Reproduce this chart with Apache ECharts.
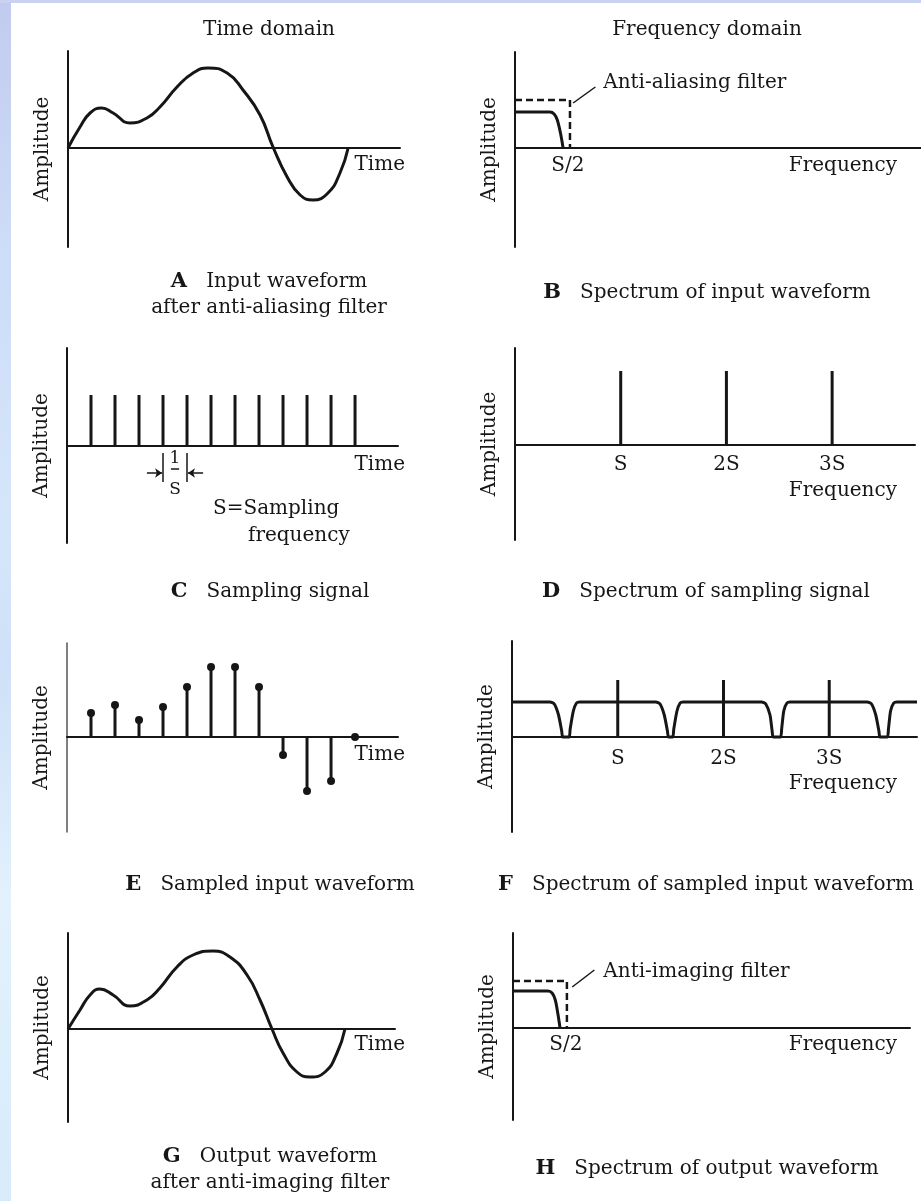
<!DOCTYPE html>
<html>
<head>
<meta charset="utf-8">
<script src="https://cdn.jsdelivr.net/npm/echarts@6/dist/echarts.min.js"></script>
<style>
html, body { margin: 0; padding: 0; background: #fff; }
#chart { width: 921px; height: 1201px; }
</style>
</head>
<body>
<div id="chart"></div>
<script>
// values
// time in sample periods, frequency in multiples of S, amplitude in arbitrary units
var waveA_t   = [0, 0.5, 0.92, 1.4, 1.88, 2.58, 3.29, 3.83, 4.54, 5.21, 5.83, 6.63, 7.29, 8.0, 8.54, 9.13, 9.67, 10.2, 10.83, 11.33, 11.67];
var waveA_amp = [0, 21, 35, 40, 35, 25, 30, 41, 61, 75, 80, 75, 58, 33, 1, -29, -47, -52, -45, -25, 0];

var specB_f   = [0, 0.33, 0.37, 0.40, 0.43, 0.455];
var specB_amp = [36, 36, 34, 28, 15, 0];
var filterB_f   = [0, 0.52, 0.52];
var filterB_amp = [48, 48, 0];

var pulseC_t   = [1, 2, 3, 4, 5, 6, 7, 8, 9, 10, 11, 12];
var pulseC_amp = [51, 51, 51, 51, 51, 51, 51, 51, 51, 51, 51, 51];

var lineD_f   = [1, 2, 3];
var lineD_amp = [74, 74, 74];

var sampleE_t   = [1, 2, 3, 4, 5, 6, 7, 8, 9, 10, 11, 12];
var sampleE_amp = [24, 32, 17, 30, 50, 70, 70, 50, -18, -54, -44, 0];

var specF_f = [0, 0.36, 0.40, 0.44, 0.47, 0.48, 0.54, 0.55, 0.58, 0.61, 0.64,
               1.36, 1.40, 1.44, 1.47, 1.48, 1.52, 1.53, 1.56, 1.59, 1.62,
               2.36, 2.40, 2.44, 2.46, 2.47, 2.54, 2.55, 2.57, 2.60, 2.63,
               3.36, 3.40, 3.44, 3.47, 3.48, 3.55, 3.56, 3.58, 3.61, 3.64, 3.83];
var specF_amp = [35, 35, 33, 22, 6, 0, 0, 8, 26, 34, 35,
                 35, 33, 22, 6, 0, 0, 8, 26, 34, 35,
                 35, 33, 22, 6, 0, 0, 8, 26, 34, 35,
                 35, 33, 22, 6, 0, 0, 8, 26, 34, 35, 35];
var lineF_f   = [1, 2, 3];
var lineF_amp = [57, 57, 57];

var waveG_t   = [0, 0.5, 0.92, 1.33, 1.88, 2.58, 3.29, 3.83, 4.54, 5.21, 6.04, 6.75, 7.46, 8.0, 8.5, 8.96, 9.54, 10.08, 10.71, 11.21, 11.54];
var waveG_amp = [0, 19, 34, 40, 34, 23, 29, 41, 62, 74, 78, 72, 54, 29, 0, -24, -43, -48, -43, -24, 0];

var specH_f   = [0, 0.33, 0.37, 0.40, 0.425, 0.445];
var specH_amp = [37, 37, 35, 28, 14, 0];
var filterH_f   = [0, 0.51, 0.51];
var filterH_amp = [47, 47, 0];

// frequency tick labels
var halfTick_f    = [0.5];
var halfTick_text = ['S/2'];
var freqTick_f    = [1, 2, 3];
var freqTick_text = ['S', '2S', '3S'];

var INK = '#161616';
var FONT = '"DejaVu Serif", "Liberation Serif", serif';

function pairs(xs, ys) {
  return xs.map(function (x, i) { return [x, ys[i]]; });
}

// panel layout: A B / C D / E F / G H
var panels = [
  {left: 68,  top: 51,  width: 332, height: 196, xMax: 13.83, yMin: -99, yMax: 97, xName: 'Time',      nameGap: 5,   namePad: 7},
  {left: 515, top: 52,  width: 406, height: 195, xMax: 3.84,  yMin: -99, yMax: 96, xName: 'Frequency', nameGap: -24, namePad: 8},
  {left: 67,  top: 348, width: 331, height: 195, xMax: 13.79, yMin: -97, yMax: 98, xName: 'Time',      nameGap: 7,   namePad: 9},
  {left: 515, top: 348, width: 400, height: 192, xMax: 3.784, yMin: -95, yMax: 97, xName: 'Frequency', nameGap: -18, namePad: 36},
  {left: 67,  top: 643, width: 331, height: 189, xMax: 13.79, yMin: -95, yMax: 94, xName: 'Time',      nameGap: 7,   namePad: 8,  thinY: true},
  {left: 512, top: 641, width: 405, height: 191, xMax: 3.83,  yMin: -95, yMax: 96, xName: 'Frequency', nameGap: -20, namePad: 37},
  {left: 68,  top: 933, width: 327, height: 189, xMax: 13.625, yMin: -93, yMax: 96, xName: 'Time',     nameGap: 10,  namePad: 6},
  {left: 513, top: 933, width: 397, height: 187, xMax: 3.756, yMin: -92, yMax: 95, xName: 'Frequency', nameGap: -13, namePad: 7}
];

var grids = [], xAxes = [], yAxes = [];
panels.forEach(function (p, i) {
  grids.push({left: p.left, top: p.top, width: p.width, height: p.height, containLabel: false, outerBoundsMode: 'none'});
  xAxes.push({
    gridIndex: i, type: 'value', min: 0, max: p.xMax,
    axisLine: {show: true, onZero: true, lineStyle: {color: INK, width: 2}},
    axisTick: {show: false}, splitLine: {show: false}, axisLabel: {show: false},
    name: p.xName, nameLocation: 'end', nameGap: p.nameGap,
    nameTextStyle: {color: INK, fontFamily: FONT, fontSize: 20, align: 'right', verticalAlign: 'top', padding: [p.namePad, 0, 0, 0]}
  });
  yAxes.push({
    gridIndex: i, type: 'value', min: p.yMin, max: p.yMax,
    axisLine: {show: true, onZero: false, lineStyle: {color: p.thinY ? '#555' : INK, width: p.thinY ? 1.5 : 2}},
    axisTick: {show: false}, splitLine: {show: false}, axisLabel: {show: false},
    name: 'Amplitude', nameLocation: 'middle', nameRotate: 90, nameGap: 15,
    nameTextStyle: {color: INK, fontFamily: FONT, fontSize: 20}
  });
});

function curve(i, data, extra) {
  var s = {type: 'line', xAxisIndex: i, yAxisIndex: i, data: data, symbol: 'none', silent: true,
    lineStyle: {color: INK, width: 3}};
  return Object.assign(s, extra || {});
}
function spikes(i, data, w) {
  return {type: 'bar', xAxisIndex: i, yAxisIndex: i, data: data, barWidth: w || 3, silent: true,
    itemStyle: {color: INK}};
}
function note(i, items, pos, size) {
  return {type: 'scatter', xAxisIndex: i, yAxisIndex: i, symbolSize: 1, silent: true,
    itemStyle: {color: 'rgba(0,0,0,0)', opacity: 1},
    label: {show: true, position: pos, distance: 0, formatter: '{b}', color: INK, opacity: 1,
      fontFamily: FONT, fontSize: size || 20},
    data: items};
}
// tick labels sit just under the zero line, at the given amplitude
function tickNotes(i, fs, texts, amp) {
  return note(i, fs.map(function (f, k) { return {name: texts[k], value: [f, amp]}; }), 'inside');
}

var series = [
  // A
  curve(0, pairs(waveA_t, waveA_amp), {smooth: true}),
  // B
  curve(1, pairs(specB_f, specB_amp), {smooth: 0.3}),
  curve(1, pairs(filterB_f, filterB_amp), {lineStyle: {color: INK, width: 2.5, type: [7, 4]}}),
  curve(1, [[0.55, 45], [0.76, 61]], {lineStyle: {color: INK, width: 1.5}}),
  note(1, [{name: 'Anti-aliasing filter', value: [0.83, 65]}], 'right'),
  tickNotes(1, halfTick_f, halfTick_text, -18),
  // C
  Object.assign(spikes(2, pairs(pulseC_t, pulseC_amp)), {
    markLine: {
      silent: true, symbol: ['none', 'none'], symbolSize: 7, label: {show: false},
      lineStyle: {color: INK, width: 1.5, type: 'solid'}, emphasis: {disabled: true},
      data: [
        [{coord: [4, -7]}, {coord: [4, -36]}],
        [{coord: [5, -7]}, {coord: [5, -36]}],
        [{coord: [3.33, -27]}, {coord: [3.96, -27], symbol: 'arrow'}],
        [{coord: [5.67, -27]}, {coord: [5.04, -27], symbol: 'arrow'}],
        [{coord: [4.33, -23]}, {coord: [4.67, -23]}]
      ]
    }
  }),
  note(2, [{name: '1', value: [4.5, -13]}, {name: 'S', value: [4.5, -44]}], 'inside', 17),
  // D
  spikes(3, pairs(lineD_f, lineD_amp)),
  tickNotes(3, freqTick_f, freqTick_text, -20),
  // E
  spikes(4, pairs(sampleE_t, sampleE_amp), 3),
  {type: 'scatter', xAxisIndex: 4, yAxisIndex: 4, symbolSize: 8, silent: true,
    itemStyle: {color: INK, opacity: 1}, data: pairs(sampleE_t, sampleE_amp)},
  // F
  curve(5, pairs(specF_f, specF_amp), {smooth: 0.2}),
  spikes(5, pairs(lineF_f, lineF_amp)),
  tickNotes(5, freqTick_f, freqTick_text, -22),
  // G
  curve(6, pairs(waveG_t, waveG_amp), {smooth: true}),
  // H
  curve(7, pairs(specH_f, specH_amp), {smooth: 0.3}),
  curve(7, pairs(filterH_f, filterH_amp), {lineStyle: {color: INK, width: 2.5, type: [7, 4]}}),
  curve(7, [[0.56, 41], [0.77, 58]], {lineStyle: {color: INK, width: 1.5}}),
  note(7, [{name: 'Anti-imaging filter', value: [0.85, 56]}], 'right'),
  tickNotes(7, halfTick_f, halfTick_text, -17)
];

function txt(x, y, text, align) {
  return {type: 'text', x: x, y: y, silent: true,
    style: {text: text, fill: INK, fontFamily: FONT, fontSize: 20, lineHeight: 26,
      align: align || 'center', verticalAlign: 'middle',
      rich: {b: {fontWeight: 'bold', fontFamily: FONT, fontSize: 21, fill: INK}}}};
}

var graphic = [
  {type: 'rect', silent: true, z: -10, shape: {x: 0, y: 0, width: 11, height: 1201},
    style: {fill: new echarts.graphic.LinearGradient(0, 0, 0, 1, [
      {offset: 0, color: '#c2cbef'}, {offset: 0.2, color: '#cddcf7'}, {offset: 0.45, color: '#d6e6fa'},
      {offset: 0.55, color: '#cfe0f8'}, {offset: 0.75, color: '#e2f1fc'}, {offset: 1, color: '#d8ebfb'}])}},
  {type: 'rect', silent: true, z: -10, shape: {x: 0, y: 0, width: 921, height: 3}, style: {fill: '#c9d3f1'}},
  txt(269, 30, 'Time domain'),
  txt(707, 30, 'Frequency domain'),
  txt(269, 295, '{b|A}   Input waveform\nafter anti-aliasing filter'),
  txt(707, 293, '{b|B}   Spectrum of input waveform'),
  txt(213, 509, 'S=Sampling', 'left'),
  txt(248, 536, 'frequency', 'left'),
  txt(270, 592, '{b|C}   Sampling signal'),
  txt(706, 592, '{b|D}   Spectrum of sampling signal'),
  txt(270, 885, '{b|E}   Sampled input waveform'),
  txt(706, 885, '{b|F}   Spectrum of sampled input waveform'),
  txt(270, 1170, '{b|G}   Output waveform\nafter anti-imaging filter'),
  txt(707, 1169, '{b|H}   Spectrum of output waveform')
];

var chart = echarts.init(document.getElementById('chart'));
chart.setOption({
  animation: false,
  backgroundColor: '#ffffff',
  textStyle: {color: INK, fontFamily: FONT, fontSize: 20},
  grid: grids,
  xAxis: xAxes,
  yAxis: yAxes,
  series: series,
  graphic: graphic
});
</script>
</body>
</html>
